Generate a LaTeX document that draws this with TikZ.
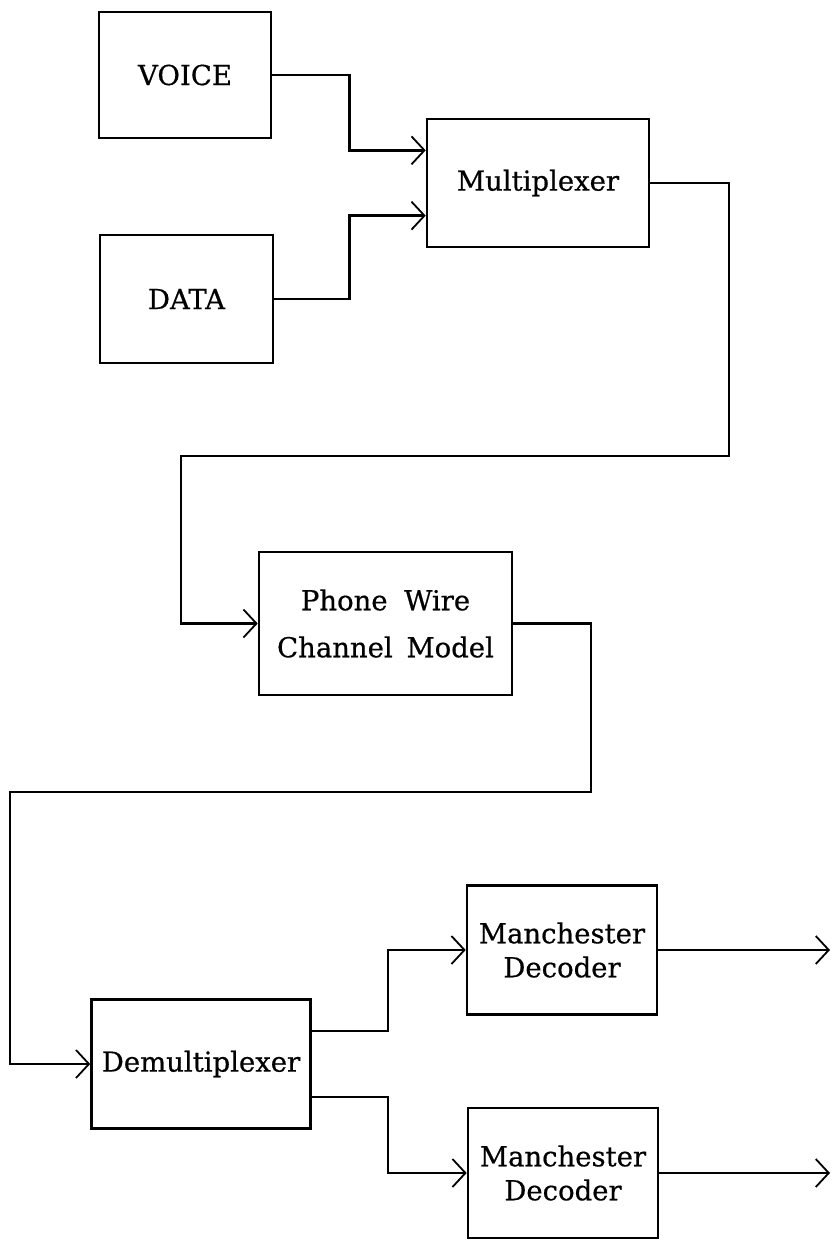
\documentclass[tikz,border=0pt]{standalone}
\usepackage{fontspec}
\setmainfont{DejaVu Serif}
\newfontfamily\blkfont{DejaVu Serif}[FakeBold=0.6]
\usetikzlibrary{arrows.meta,calc}

\tikzset{
  blk/.style={draw, line width=2.6pt, rectangle, inner sep=0pt,
    font=\blkfont\fontsize{27.5}{34}\selectfont, align=center},
  wire/.style={line width=2.6pt},
  arr/.style={wire, -{Straight Barb[length=13pt,width=28pt,line width=1.8pt]}}
}

\begin{document}
\begin{tikzpicture}[x=1pt,y=-1pt]
\useasboundingbox (0,0) rectangle (836,1241);

% blocks
\node[blk, minimum width=172pt, minimum height=126pt] (voice) at (185,75) {VOICE};
\node[blk, minimum width=173pt, minimum height=128pt] (data) at (186.5,299) {DATA};
\node[blk, minimum width=222pt, minimum height=128pt] (mux) at (538,183) {Multiplexer};
\node[blk, minimum width=253pt, minimum height=143pt,
      font=\blkfont\fontsize{27.5}{47}\selectfont] (phone) at (385.5,623.5)
      {Phone\hspace{0.6em}Wire\\Channel\hspace{0.5em}Model};
\node[blk, minimum width=219pt, minimum height=129pt] (demux) at (201,1064) {Demultiplexer};
\node[blk, minimum width=190pt, minimum height=129pt] (man1) at (562,950) {Manchester\\Decoder};
\node[blk, minimum width=190pt, minimum height=130pt] (man2) at (563,1173) {Manchester\\Decoder};

% routing points
\coordinate (jin) at (349.5,0);
\coordinate (m1) at ($(mux.west)!0.5!(mux.north west)$);
\coordinate (m2) at ($(mux.west)!0.5!(mux.south west)$);
\coordinate (ja) at (729,456);
\coordinate (jb) at (181,456);
\coordinate (jc) at (591,792);
\coordinate (jd) at (10,792);
\coordinate (d1) at ($(demux.east)!0.5!(demux.north east)$);
\coordinate (d2) at ($(demux.east)!0.5!(demux.south east)$);
\coordinate (js) at (388,0);
\coordinate (out) at (830,0);

% inputs to the multiplexer
\draw[arr] (voice.east) -- (voice.east -| jin) |- (m1);
\draw[arr] (data.east) -- (data.east -| jin) |- (m2);

% multiplexer to channel model
\draw[arr] (mux.east) -| (ja) -- (jb) |- (phone.west);

% channel model to demultiplexer
\draw[arr] (phone.east) -| (jc) -- (jd) |- (demux.west);

% demultiplexer to decoders
\draw[arr] (d1) -- (d1 -| js) |- (man1.west);
\draw[arr] (d2) -- (d2 -| js) |- (man2.west);

% decoder outputs
\draw[arr] (man1.east) -- (man1.east -| out);
\draw[arr] (man2.east) -- (man2.east -| out);
\end{tikzpicture}
\end{document}
